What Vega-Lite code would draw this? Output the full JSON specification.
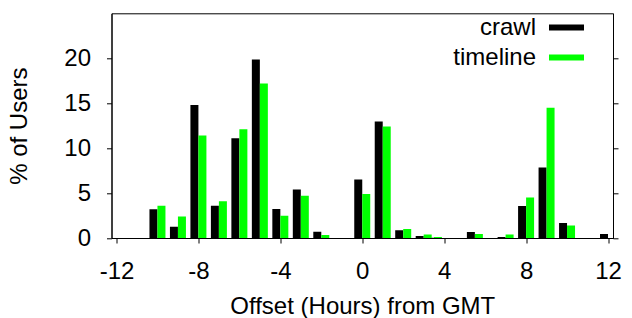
{
  "$schema": "https://vega.github.io/schema/vega-lite/v6.json",
  "width": 501.5,
  "height": 224.7,
  "autosize": "none",
  "padding": {"left": 111.5, "top": 13.3, "right": 19, "bottom": 80},
  "background": "white",
  "config": {
    "font": "Liberation Sans",
    "view": {"stroke": "black", "strokeWidth": 1},
    "axis": {
      "grid": false,
      "domainColor": "black",
      "tickColor": "black",
      "labelColor": "black",
      "titleColor": "black",
      "labelFont": "Liberation Sans",
      "titleFont": "Liberation Sans",
      "labelFontSize": 24,
      "titleFontSize": 24,
      "titleFontWeight": "normal",
      "tickSize": 5
    }
  },
  "data": {
    "values": [
      {"hour": -10, "series": "crawl", "pct": 3.2}, {"hour": -10, "series": "timeline", "pct": 3.6},
      {"hour": -9, "series": "crawl", "pct": 1.25}, {"hour": -9, "series": "timeline", "pct": 2.4},
      {"hour": -8, "series": "crawl", "pct": 14.8}, {"hour": -8, "series": "timeline", "pct": 11.4},
      {"hour": -7, "series": "crawl", "pct": 3.6}, {"hour": -7, "series": "timeline", "pct": 4.1},
      {"hour": -6, "series": "crawl", "pct": 11.1}, {"hour": -6, "series": "timeline", "pct": 12.1},
      {"hour": -5, "series": "crawl", "pct": 19.85}, {"hour": -5, "series": "timeline", "pct": 17.2},
      {"hour": -4, "series": "crawl", "pct": 3.22}, {"hour": -4, "series": "timeline", "pct": 2.48},
      {"hour": -3, "series": "crawl", "pct": 5.4}, {"hour": -3, "series": "timeline", "pct": 4.7},
      {"hour": -2, "series": "crawl", "pct": 0.7}, {"hour": -2, "series": "timeline", "pct": 0.33},
      {"hour": 0, "series": "crawl", "pct": 6.5}, {"hour": 0, "series": "timeline", "pct": 4.9},
      {"hour": 1, "series": "crawl", "pct": 12.95}, {"hour": 1, "series": "timeline", "pct": 12.4},
      {"hour": 2, "series": "crawl", "pct": 0.85}, {"hour": 2, "series": "timeline", "pct": 1.0},
      {"hour": 3, "series": "crawl", "pct": 0.22}, {"hour": 3, "series": "timeline", "pct": 0.4},
      {"hour": 3.5, "series": "crawl", "pct": 0.02}, {"hour": 3.5, "series": "timeline", "pct": 0.1},
      {"hour": 5.5, "series": "crawl", "pct": 0.67}, {"hour": 5.5, "series": "timeline", "pct": 0.45},
      {"hour": 7, "series": "crawl", "pct": 0.12}, {"hour": 7, "series": "timeline", "pct": 0.4},
      {"hour": 8, "series": "crawl", "pct": 3.56}, {"hour": 8, "series": "timeline", "pct": 4.5},
      {"hour": 9, "series": "crawl", "pct": 7.85}, {"hour": 9, "series": "timeline", "pct": 14.5},
      {"hour": 10, "series": "crawl", "pct": 1.67}, {"hour": 10, "series": "timeline", "pct": 1.4},
      {"hour": 12, "series": "crawl", "pct": 0.45}, {"hour": 12, "series": "timeline", "pct": 0}
    ]
  },
  "encoding": {
    "x": {
      "field": "hour",
      "type": "quantitative",
      "scale": {"domain": [-12, 12], "nice": false, "zero": false},
      "axis": {
        "values": [-12, -8, -4, 0, 4, 8, 12],
        "labelExpr": "toString(datum.value)",
        "title": "Offset (Hours) from GMT",
        "labelPadding": 16,
        "titlePadding": 11,
        "labelFlush": false
      }
    },
    "color": {
      "field": "series",
      "type": "nominal",
      "scale": {"domain": ["crawl", "timeline"], "range": ["#000000", "#00ff00"]},
      "legend": {
        "title": null,
        "orient": "none",
        "legendX": 437.5,
        "legendY": -3.3,
        "padding": 0,
        "symbolType": "M-1,-0.17H1V0.17H-1Z",
        "symbolSize": 1225,
        "symbolStrokeWidth": 0,
        "symbolOpacity": 1,
        "labelAlign": "right",
        "labelOffset": -48,
        "labelFont": "Liberation Sans",
        "labelFontSize": 24,
        "labelColor": "black",
        "rowPadding": -4.6
      }
    }
  },
  "resolve": {"axis": {"y": "independent"}},
  "layer": [
    {
      "transform": [{"filter": "datum.series == 'crawl'"}],
      "mark": {"type": "bar", "width": 8, "xOffset": -4, "clip": true},
      "encoding": {
        "y": {
          "field": "pct",
          "type": "quantitative",
          "scale": {"domain": [0, 25], "nice": false},
          "axis": {"orient": "left", "values": [0, 5, 10, 15, 20], "title": "% of Users", "labelPadding": 16, "titlePadding": 32}
        }
      }
    },
    {
      "transform": [{"filter": "datum.series == 'timeline'"}],
      "mark": {"type": "bar", "width": 8, "xOffset": 4, "clip": true},
      "encoding": {
        "y": {
          "field": "pct",
          "type": "quantitative",
          "scale": {"domain": [0, 25], "nice": false},
          "axis": {"orient": "right", "values": [0, 5, 10, 15, 20], "labels": false, "title": null}
        }
      }
    }
  ]
}
